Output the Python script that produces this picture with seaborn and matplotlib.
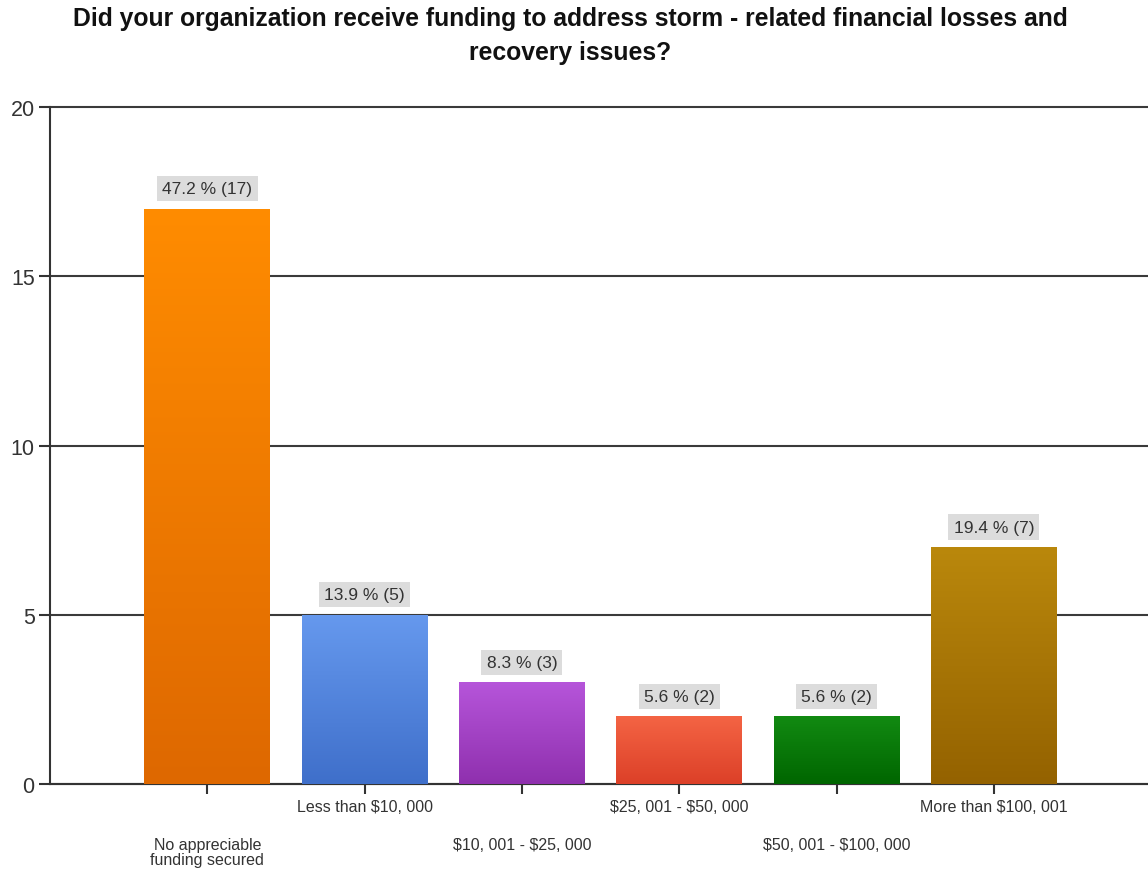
import numpy as np
import pandas as pd
import matplotlib
matplotlib.use("Agg")
import matplotlib.pyplot as plt
import seaborn as sns
from matplotlib.colors import LinearSegmentedColormap

categories = ["No appreciable\nfunding secured", "Less than $10, 000", "$10, 001 - $25, 000",
              "$25, 001 - $50, 000", "$50, 001 - $100, 000", "More than $100, 001"]
counts = [17, 5, 3, 2, 2, 7]
percents = [47.2, 13.9, 8.3, 5.6, 5.6, 19.4]
top_colors = ["#FF8C00", "#6699EE", "#B655DA", "#F46444", "#128A12", "#BA880C"]
bottom_colors = ["#DE6800", "#3F6FCA", "#8F30AE", "#DC4028", "#006600", "#946200"]
yticks = [0, 5, 10, 15, 20]
title = "Did your organization receive funding to address storm - related financial losses and\nrecovery issues?"

sns.set_theme(style="white")
plt.rcParams['font.family'] = ['Liberation Sans', 'DejaVu Sans']
plt.rcParams['text.parse_math'] = False

df = pd.DataFrame({"category": categories, "count": counts})

fig = plt.figure(figsize=(11.48, 8.78), dpi=100)
ax = fig.add_axes([50/1148, 1 - 785/878, 1 - 50/1148, (785 - 108)/878])

sns.barplot(data=df, x="category", y="count", hue="category", palette=bottom_colors,
            legend=False, width=0.8, ax=ax, linewidth=0, zorder=3)

# gradient fill clipped to each bar
for i, patch in enumerate(ax.patches):
    x0, y0 = patch.get_x(), patch.get_y()
    w, h = patch.get_width(), patch.get_height()
    cmap = LinearSegmentedColormap.from_list("g", [bottom_colors[i], top_colors[i]])
    grad = np.linspace(0, 1, 256).reshape(-1, 1)
    im = ax.imshow(grad, cmap=cmap, aspect="auto", origin="lower",
                   extent=(x0, x0 + w, y0, y0 + h), zorder=4)
    im.set_clip_path(patch)

for i, (c, p) in enumerate(zip(counts, percents)):
    ax.annotate(f"{p} % ({c})", xy=(i, c), xytext=(0, 9), textcoords="offset points",
                ha="center", va="bottom", fontsize=12.5, color="#333333", zorder=6,
                bbox=dict(boxstyle="square,pad=0.3", fc="#DCDCDC", ec="none"))

ax.set_ylim(0, 20)
ax.set_xlim(-1.0, 5.98)
ax.set_yticks(yticks)
ax.set_yticklabels([str(t) for t in yticks], fontsize=15.5, color="#333333")
ax.yaxis.grid(True, color="#3a3a3a", linewidth=1.5, zorder=0)
ax.set_axisbelow(True)
ax.set_xlabel("")
ax.set_ylabel("")
for line in ax.get_ygridlines():
    line.set_clip_on(False)

for s in ["top", "right"]:
    ax.spines[s].set_visible(False)
for s in ["left", "bottom"]:
    ax.spines[s].set_color("#333333")
    ax.spines[s].set_linewidth(1.5)

ax.tick_params(axis="y", direction="out", length=8, width=1.5, color="#333333", pad=3, left=True)
ax.tick_params(axis="x", direction="out", length=7, width=1.5, color="#333333", bottom=True)
ax.set_xticks(range(len(categories)))
ax.set_xticklabels(categories, fontsize=11.5, color="#333333", linespacing=1.0)
for i, tick in enumerate(ax.xaxis.get_major_ticks()):
    tick.set_pad(31 if i % 2 == 0 else 4)

fig.text(0.497, 1 - 7/878, title, ha="center", va="top", fontsize=17.8, fontweight="bold",
         color="#111111", linespacing=1.55)

fig.savefig("out.png", dpi=100)
